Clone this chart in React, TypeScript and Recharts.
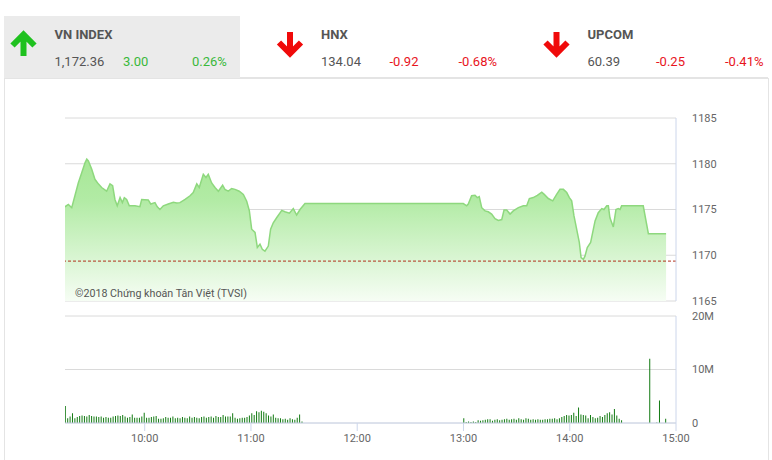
import { Area, AreaChart, Bar, BarChart, CartesianGrid, ReferenceLine, XAxis, YAxis } from "recharts";

const FONT = "Roboto, 'Noto Sans', sans-serif";

// header boxes
const indexNames = ["VN INDEX", "HNX", "UPCOM"];
const indexValues = ["1,172.36", "134.04", "60.39"];
const indexChanges = ["3.00", "-0.92", "-0.25"];
const indexPercents = ["0.26%", "-0.68%", "-0.41%"];

// intraday VN-Index (minutes since midnight, points)
const priceTimes = [
  555, 556.9, 558.8, 560.6, 562.5, 564.4, 566.3, 567.3, 568.2, 570.1, 571.9, 573.8, 575.7, 578.5, 580.4, 581.9,
  583.2, 584.5, 586.1, 587.4, 588.5, 589.8, 591.3, 594.5, 597.3, 598.3, 602, 603.4, 605.8, 607.1, 608.6, 610.5,
  613.3, 616.2, 618.1, 619.9, 622.8, 625.6, 627.4, 629.4, 630.8, 633.1, 634.6, 635.9, 637.8, 639.7, 641.6, 644,
  645.3, 647.2, 649.1, 651, 653.4, 655.7, 657.6, 659.1, 660.4, 662.3, 663.6, 665.1, 666.4, 667.9, 669.8, 671.1,
  672.6, 674.5, 677.4, 679.2, 681.7, 683.9, 685.8, 687.7, 690.5, 779.9, 781.8, 782.7, 784.6, 786.5, 787.8, 788.9,
  790.3, 792.2, 794, 795.9, 797.8, 799.7, 801.6, 802.9, 804.4, 806.3, 808.1, 811, 813.8, 815.7, 817.2, 819.4,
  821.7, 824.2, 825.6, 827.9, 830.4, 832.6, 834.5, 836.4, 838.3, 839.8, 841.1, 842.4, 843.9, 845.4, 846.4, 847.7,
  848.6, 849.9, 851.8, 854.3, 856.1, 858.1, 859.3, 860.9, 861.8, 862.7, 864.6, 866.1, 867.4, 868.4, 869.3, 881.5,
  884.4, 894.4,
];
const priceValues = [
  1175.3, 1175.55, 1175.2, 1176.5, 1177.9, 1179.0, 1180.1, 1180.5, 1180.3, 1179.4, 1178.3, 1177.8, 1177.4, 1177.0, 1177.8, 1177.6,
  1176.1, 1175.4, 1176.3, 1175.75, 1176.3, 1176.1, 1175.4, 1175.4, 1175.3, 1176.1, 1176.05, 1175.6, 1175.75, 1175.3, 1175.0, 1175.4,
  1175.6, 1175.8, 1175.7, 1175.75, 1176.1, 1176.5, 1176.85, 1177.8, 1177.4, 1178.85, 1178.5, 1178.85, 1177.9, 1177.4, 1177.0, 1177.65,
  1177.2, 1177.0, 1177.3, 1177.2, 1177.0, 1176.65, 1175.9, 1174.85, 1172.85, 1172.5, 1170.85, 1171.2, 1170.65, 1170.45, 1171.0, 1172.85,
  1173.55, 1174.1, 1174.9, 1174.75, 1174.6, 1175.1, 1174.4, 1175.0, 1175.65, 1175.65, 1175.4, 1175.6, 1176.5, 1176.55, 1176.3, 1176.4,
  1175.2, 1174.85, 1174.75, 1174.5, 1174.0, 1173.8, 1173.9, 1174.95, 1174.95, 1174.5, 1174.85, 1175.2, 1175.4, 1175.4, 1176.2, 1176.3,
  1176.55, 1176.9, 1176.65, 1176.2, 1175.95, 1176.65, 1177.2, 1177.2, 1176.85, 1176.3, 1175.95, 1174.3, 1172.85, 1171.4, 1169.75, 1169.55,
  1169.9, 1170.85, 1171.4, 1173.75, 1174.65, 1175.1, 1175.0, 1175.4, 1175.4, 1174.1, 1173.1, 1175.0, 1175.1, 1175.0, 1175.4, 1175.4,
  1172.36, 1172.36,
];
const refPrice = 1169.36;
const priceTicks = [1165, 1170, 1175, 1180, 1185];

// volume (millions of shares), bars every 1.35 min from 9:15 and from 13:00
const volMorning = [
  3.2, 0.9, 1.2, 1.8, 0.9, 1.1, 1.3, 1.4, 1.3, 1.2, 1.5, 1.3, 1.2, 1.2, 1.1, 1.2, 1.0, 1.1, 1.0, 1.0,
  1.2, 1.3, 1.4, 1.3, 1.5, 1.2, 1.0, 1.1, 1.6, 1.0, 1.0, 1.0, 1.2, 1.9, 1.0, 1.0, 1.1, 1.2, 1.3, 0.8,
  0.8, 0.9, 1.1, 1.0, 1.0, 1.2, 0.9, 1.0, 0.9, 1.1, 1.0, 0.9, 1.2, 1.0, 1.1, 1.0, 0.9, 1.1, 1.2, 1.0,
  1.1, 1.2, 1.0, 1.3, 1.1, 1.1, 1.5, 1.2, 1.2, 1.2, 1.8, 1.0, 0.8, 0.9, 1.0, 1.0, 1.1, 1.4, 1.8, 1.5,
  2.2, 2.0, 2.3, 2.1, 1.8, 1.4, 1.2, 1.6, 1.0, 0.9, 0.9, 0.7, 0.8, 0.6, 0.9, 0.7, 0.6, 1.0, 1.6, 0.3,
];
const volAfternoon = [
  0.9, 0.2, 0.3, 0.2, 0.3, 0.2, 0.5, 0.4, 0.5, 0.6, 0.7, 0.7, 0.4, 0.6, 0.7, 0.5, 0.6, 0.7, 0.8, 0.6,
  0.7, 0.8, 0.6, 0.9, 0.7, 0.6, 0.9, 0.8, 0.6, 0.7, 0.6, 0.7, 0.6, 0.6, 0.7, 0.7, 0.8, 0.8, 0.9, 0.7,
  0.9, 1.1, 1.3, 1.5, 1.4, 1.5, 1.9, 1.3, 2.9, 1.6, 1.5, 1.4, 0.9, 1.5, 1.1, 0.9, 1.0, 1.3, 1.1, 1.5,
  1.8, 2.0, 1.6, 2.6, 1.4, 0.8, 0.5,
];
const closeTimes = [885, 889, 890.5, 894];
const closeVolumes = [12.0, 0.1, 4.2, 0.8];
const volTicks = [0, 10, 20];
const timeTicks = [600, 660, 720, 780, 840, 900];

const priceData = priceTimes.map((t, i) => ({ t, price: priceValues[i] }));
const volumeData = [
  ...volMorning.map((v, i) => ({ t: 555 + i * 1.35, v })),
  ...volAfternoon.map((v, i) => ({ t: 780 + i * 1.35, v })),
  ...closeTimes.map((t, i) => ({ t, v: closeVolumes[i] })),
];

const fmtTime = (v: number) => `${Math.floor(v / 60)}:${String(v % 60).padStart(2, "0")}`;

const AXIS = "#ccd6eb";
const GRID = "#dadada";
const LABEL = { fontSize: 11, fill: "#666", fontFamily: FONT };

function Arrow({ cx, up, color }: { cx: number; up: boolean; color: string }) {
  const d = up
    ? `M${cx} 56 L${cx} 36 M${cx - 11} 45.5 L${cx} 34.5 L${cx + 11} 45.5`
    : `M${cx} 32 L${cx} 52 M${cx - 11} 42.5 L${cx} 53.5 L${cx + 11} 42.5`;
  return <path d={d} stroke={color} strokeWidth={6} fill="none" strokeLinejoin="miter" />;
}

function Header() {
  const offsets = [0, 266.5, 533];
  return (
    <svg width={772} height={80} style={{ position: "absolute", left: 0, top: 0 }}>
      <rect x={4} y={16} width={236} height={62} fill="#ebebeb" />
      <line x1={240} y1={77.5} x2={768} y2={77.5} stroke="#e4e4e4" />
      {indexNames.map((name, i) => {
        const ox = offsets[i];
        const up = !indexChanges[i].startsWith("-");
        const col = up ? "#3ab83a" : "#e8141d";
        return (
          <g key={name} fontFamily={FONT}>
            <Arrow cx={ox + 23.5} up={up} color={up ? "#1fc11f" : "#f00a0a"} />
            <text x={ox + 54.5} y={39} fontSize={13} fontWeight={700} fill="#555">{name}</text>
            <text x={ox + 54.5} y={65.5} fontSize={13} fill="#555">{indexValues[i]}</text>
            <text x={ox + 123} y={65.5} fontSize={13} fill={col}>{indexChanges[i]}</text>
            <text x={ox + 192} y={65.5} fontSize={13} fill={col}>{indexPercents[i]}</text>
          </g>
        );
      })}
    </svg>
  );
}

export default function App() {
  return (
    <div style={{ position: "fixed", left: 0, top: 0, width: 772, height: 460, background: "#fff", overflow: "hidden" }}>
      <Header />
      <div style={{ position: "absolute", left: 4, top: 78, width: 763, height: 400, borderLeft: "1px solid #e4e4e4", borderRight: "1px solid #e4e4e4", borderTop: "1px solid #e4e4e4" }} />

      <div style={{ position: "absolute", left: 0, top: 100 }}>
        <AreaChart width={772} height={215} data={priceData} margin={{ top: 18, right: 36, bottom: 14, left: 65 }}>
          <defs>
            <linearGradient id="priceFill" gradientUnits="userSpaceOnUse" x1={0} y1={18} x2={0} y2={201}>
              <stop offset="0" stopColor="#9be387" />
              <stop offset="0.45" stopColor="#b2eba5" />
              <stop offset="1" stopColor="#f6fdf4" />
            </linearGradient>
          </defs>
          <CartesianGrid vertical={false} stroke={GRID} />
          <XAxis dataKey="t" type="number" domain={[555, 900]} hide allowDataOverflow />
          <YAxis
            orientation="right"
            domain={[1165, 1185]}
            ticks={priceTicks}
            width={60}
            axisLine={{ stroke: AXIS }}
            tickLine={false}
            tickSize={0}
            tickMargin={16}
            tick={LABEL}
            allowDataOverflow
          />
          <Area
            type="linear"
            dataKey="price"
            stroke="#8ed87e"
            strokeWidth={1.5}
            fill="url(#priceFill)"
            fillOpacity={1}
            isAnimationActive={false}
            dot={false}
            activeDot={false}
          />
          <ReferenceLine y={refPrice} stroke="#b3311c" strokeDasharray="3 2" />
        </AreaChart>
      </div>

      <div style={{ position: "absolute", left: 0, top: 300 }}>
        <BarChart width={772} height={160} data={volumeData} margin={{ top: 16, right: 36, bottom: 7, left: 65 }}>
          <CartesianGrid vertical={false} stroke={GRID} />
          <XAxis
            dataKey="t"
            type="number"
            domain={[555, 900]}
            ticks={timeTicks}
            tickFormatter={fmtTime}
            height={30}
            axisLine={{ stroke: AXIS }}
            tickLine={{ stroke: AXIS }}
            tickSize={8}
            tickMargin={3}
            tick={LABEL}
            allowDataOverflow
          />
          <YAxis
            orientation="right"
            domain={[0, 20]}
            ticks={volTicks}
            tickFormatter={(v: number) => (v === 0 ? "0" : `${v}M`)}
            width={60}
            axisLine={{ stroke: AXIS }}
            tickLine={false}
            tickSize={0}
            tickMargin={16}
            tick={LABEL}
          />
          <Bar dataKey="v" fill="#127a12" barSize={1} isAnimationActive={false} />
        </BarChart>
      </div>

      <svg width={772} height={460} style={{ position: "absolute", left: 0, top: 0, pointerEvents: "none" }}>
        <text x={75} y={296.5} fontSize={11.5} fill="#555" fontFamily={FONT} textLength={172} lengthAdjust="spacingAndGlyphs">
          ©2018 Chứng khoán Tân Việt (TVSI)
        </text>
      </svg>
    </div>
  );
}
